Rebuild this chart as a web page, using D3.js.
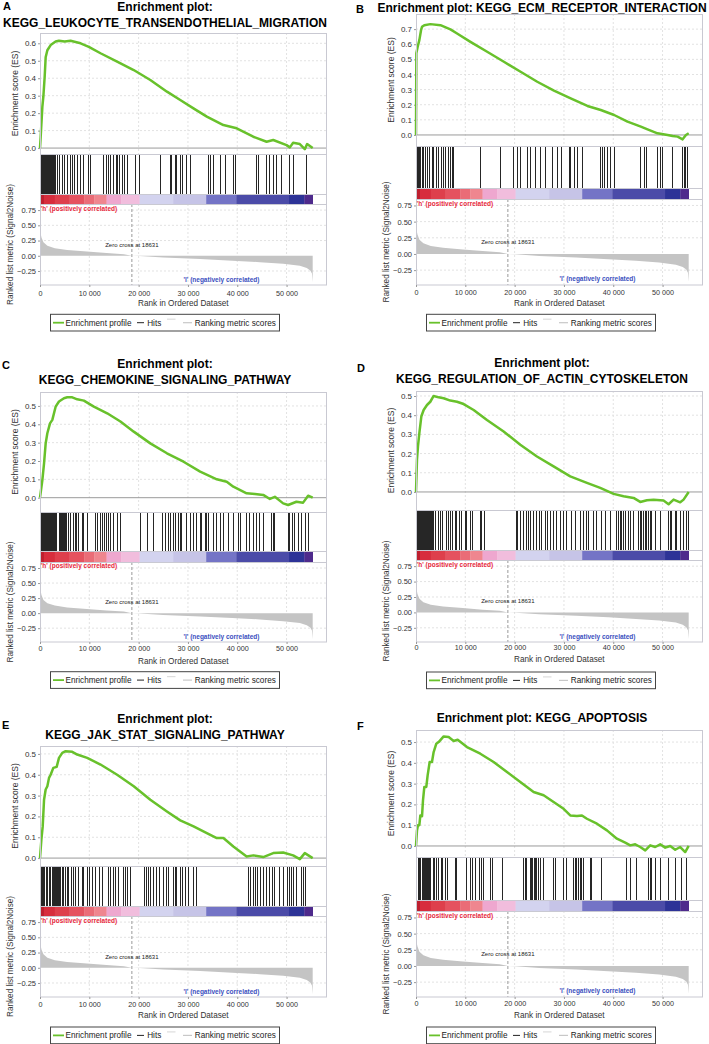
<!DOCTYPE html>
<html><head><meta charset="utf-8">
<script src="https://cdn.jsdelivr.net/npm/d3@7"></script>
<style>body{margin:0;background:#fff}svg{display:block;font-family:"Liberation Sans",Arial,sans-serif}</style>
</head><body><svg id="c" width="709" height="1044"></svg>
<script>
// ---------------- DATA ----------------
const panelLetters = ["A","B","C","D","E","F"];
const titleLines = [
  ["Enrichment plot:","KEGG_LEUKOCYTE_TRANSENDOTHELIAL_MIGRATION"],
  ["Enrichment plot: KEGG_ECM_RECEPTOR_INTERACTION"],
  ["Enrichment plot:","KEGG_CHEMOKINE_SIGNALING_PATHWAY"],
  ["Enrichment plot:","KEGG_REGULATION_OF_ACTIN_CYTOSKELETON"],
  ["Enrichment plot:","KEGG_JAK_STAT_SIGNALING_PATHWAY"],
  ["Enrichment plot: KEGG_APOPTOSIS"]
];
const legendLabels = ["Enrichment profile","Hits","Ranking metric scores"];
const zeroCross = 18631;
const listSize = 55300;
const xTicks = [0,10000,20000,30000,40000,50000];
const rankTicks = [-0.25,0,0.25,0.5,0.75];
const esTicksA = [0,0.1,0.2,0.3,0.4,0.5,0.6];
const esTicksB = [0,0.1,0.2,0.3,0.4,0.5,0.6,0.7];
const esTicksC = [0,0.1,0.2,0.3,0.4,0.5];
const esTicksD = [0,0.1,0.2,0.3,0.4,0.5];
const esTicksE = [0,0.1,0.2,0.3,0.4,0.5];
const esTicksF = [0,0.1,0.2,0.3,0.4,0.5];

// ranked list metric (shared by all panels)
const metricRank  = [0,100,300,700,1500,3000,5500,9500,13500,17000,18631,20200,25000,32500,39000,44600,49300,52700,54100,54800,55150,55300];
const metricValue = [0.52,0.38,0.30,0.22,0.165,0.125,0.095,0.07,0.045,0.025,0.0,-0.005,-0.03,-0.055,-0.08,-0.105,-0.133,-0.165,-0.2,-0.24,-0.29,-0.43];

// colour bar (phenotype gradient)
const colorBarStops  = [0,800,3000,6000,9000,11000,13500,16500,20200,27000,33700,39800,50500,53600,55300];
const colorBarColors = ["#bd1f2f","#d72d3d","#de3f4c","#e5525f","#ea6c77","#ef868f","#eea7cf","#f1bddd","#d3d3ef","#c6c4e7","#7474c6","#4b4ba8","#2d3397","#4e2a8c"];

// enrichment score curves [rank, ES]
const esA = [[0,0],[140,0.065],[480,0.237],[680,0.294],[950,0.41],[1150,0.52],[1490,0.56],[2160,0.59],[3170,0.61],[3840,0.615],[5000,0.61],[6200,0.615],[8230,0.60],[9900,0.58],[12270,0.543],[15640,0.495],[19000,0.447],[22370,0.39],[25750,0.323],[28440,0.275],[31120,0.227],[33830,0.18],[37190,0.132],[39890,0.113],[43250,0.065],[45950,0.036],[47300,0.046],[50000,0.017],[50670,0.004],[51330,0.03],[52690,0.023],[53700,-0.006],[54170,0.023],[55300,0]];
const esB = [[0,0],[70,0.54],[340,0.583],[680,0.627],[1020,0.693],[1220,0.715],[1690,0.726],[2910,0.733],[4950,0.726],[6980,0.698],[8330,0.671],[11040,0.616],[14430,0.55],[17820,0.484],[21210,0.418],[24590,0.352],[27980,0.293],[31370,0.242],[34760,0.192],[37470,0.165],[40180,0.132],[42890,0.088],[45600,0.055],[46950,0.037],[48980,0.011],[51020,0.0],[52030,-0.007],[53050,-0.011],[54065,-0.029],[54740,0],[55300,0.011]];
const esC = [[0,0],[480,0.096],[820,0.187],[1150,0.296],[1490,0.351],[2030,0.405],[2500,0.424],[3170,0.496],[3850,0.524],[4860,0.542],[5530,0.547],[6540,0.547],[7550,0.536],[8900,0.529],[10920,0.496],[13620,0.46],[16310,0.415],[19010,0.36],[22370,0.296],[25740,0.242],[29110,0.196],[32480,0.142],[35850,0.1],[37870,0.087],[39210,0.06],[41900,0.024],[43590,0.02],[45270,0.015],[46620,-0.007],[47630,0.005],[49310,-0.031],[50320,-0.04],[52000,-0.022],[53350,-0.027],[54370,0.011],[55300,0]];
const esD = [[0,0],[200,0.168],[400,0.237],[680,0.306],[1080,0.393],[1550,0.427],[2230,0.453],[2900,0.47],[3580,0.5],[4590,0.493],[5610,0.488],[6960,0.476],[8310,0.47],[9660,0.458],[11690,0.427],[14390,0.375],[17770,0.315],[21150,0.246],[24530,0.185],[27900,0.133],[31280,0.081],[34660,0.047],[37360,0.021],[40070,-0.01],[42090,-0.022],[44120,-0.031],[45470,-0.052],[46820,-0.043],[48180,-0.04],[50200,-0.045],[51220,-0.064],[52230,-0.04],[53580,-0.054],[54260,-0.04],[55300,0]];
const esE = [[0,0],[280,0.088],[550,0.152],[820,0.28],[1150,0.329],[1490,0.345],[1830,0.385],[2160,0.4],[2700,0.433],[3380,0.438],[3850,0.481],[4520,0.505],[5190,0.513],[6540,0.51],[7550,0.497],[9570,0.481],[12270,0.449],[15640,0.4],[19010,0.345],[22370,0.28],[25740,0.224],[28440,0.181],[31140,0.152],[33830,0.12],[35850,0.096],[37190,0.096],[39210,0.056],[41900,0.008],[43250,0.013],[45270,0.005],[47300,0.024],[49310,0.027],[51330,0.013],[52690,-0.005],[53700,0.024],[55300,0]];
const esF = [[0,0],[200,0.075],[400,0.1],[680,0.1],[880,0.147],[1220,0.143],[1420,0.22],[1690,0.284],[2090,0.284],[2360,0.34],[2770,0.404],[3240,0.404],[3580,0.452],[4120,0.492],[4590,0.5],[5610,0.527],[6620,0.524],[7640,0.505],[8450,0.511],[10340,0.476],[13040,0.444],[15740,0.404],[18450,0.356],[21150,0.308],[23850,0.26],[25880,0.244],[27910,0.212],[29930,0.179],[31280,0.147],[32640,0.144],[33650,0.147],[34660,0.131],[36690,0.107],[38720,0.075],[40740,0.035],[42430,0.016],[43450,0.003],[44460,0.008],[45470,-0.005],[46490,-0.021],[47500,0.003],[48510,-0.005],[49530,0.008],[50540,-0.008],[51550,0],[52570,-0.018],[53580,-0.005],[54590,-0.029],[55300,0]];

// gene set hit positions (ranks)
const hitsA = [100,200,300,400,500,600,700,800,900,1000,1100,1200,1300,1400,1500,1650,1800,1950,2100,2300,2500,2700,2900,3170,3510,4050,4520,5000,5530,6200,6540,7010,7550,8230,8770,9910,10250,12940,13480,13950,14290,14960,15500,15770,16170,16650,17110,17650,19340,20220,24400,26420,26750,27430,27770,28440,28980,29650,30460,34160,34500,35170,36520,37530,39210,39550,43930,44270,45950,46630,47300,47970,48980,50670,51340,54040];
const hitsB = [30,120,200,300,380,470,560,650,740,830,1220,1560,1900,2370,2780,3250,3590,4130,4610,5080,5490,5960,6640,6980,7450,7660,13080,17140,19720,20530,21210,22560,23240,24250,25270,26290,27640,28660,29470,31030,31370,32050,32720,33740,37470,37800,38280,38820,39500,40180,45600,46270,46820,48980,49530,50000,52030,54065,54400,54740,55080];
const hitsC = [0,200,400,600,800,1000,1200,1400,1600,1800,2000,2200,2400,2600,2800,3000,3200,3400,3900,4100,4300,4500,4700,4900,5100,5400,5870,6200,6880,7220,7420,7890,8560,8900,9710,11260,11730,12270,12610,13080,13480,13950,14290,14960,15640,16310,20350,21700,23050,24930,25410,26080,26420,27090,27430,28100,28440,28780,29790,30460,31140,31810,32480,32820,33490,33830,34160,35170,35850,36520,37190,38200,39210,40220,40560,41900,42580,43250,43930,44600,45270,46960,47300,47630,50320,50670,51210,51680,52350,53030,53900,54370];
const hitsD = [0,200,400,600,800,1000,1200,1400,1600,1800,2000,2200,2400,2600,2800,3000,3200,3400,3600,3920,4590,4930,5470,6150,6490,6960,7430,7970,8310,8850,9320,10000,10340,11010,11550,13040,13380,13850,20340,20610,21150,21820,22360,22840,23180,23850,24390,25070,25540,26220,26690,27230,27910,28580,29260,29930,30610,31620,32300,33310,33990,34660,35000,36010,36690,37700,38380,39390,40740,41080,41420,41760,42090,42430,43110,43450,44120,45140,45470,45810,46150,46490,46820,47160,47500,47840,48510,49530,51220,51550,51890,52570,52910,53580,54260,54800,55270];
const hitsE = [0,130,280,380,480,680,800,950,1220,1350,1490,1830,2000,2160,2500,2650,2840,3170,3350,3510,3850,4000,4180,4520,4700,4860,5190,5530,5870,6340,6750,7220,7890,8560,8900,9580,10110,10590,11260,12140,12610,13950,14290,14830,15300,15970,16990,17320,17660,18330,21160,21560,22030,22500,23050,23720,24260,25070,25610,26080,27090,27430,27770,28440,28980,29450,30130,31140,31680,42260,42730,43270,43610,44080,44620,45290,45960,46640,47180,47650,48660,49470,50140,50550,51020,51360,52030,53040,53510,53910];
const hitsF = [0,200,410,680,880,1220,1420,1690,1890,2090,2360,2570,2770,3040,3450,3720,4120,4590,5070,5470,5950,6420,7970,8310,10340,11010,11550,12030,12910,13380,13720,15200,15610,17640,21820,22160,22500,23180,23510,23720,23990,24190,24390,24530,24860,25200,25880,27910,28240,29930,30610,31960,32300,32640,32970,33310,33650,33990,35340,35680,37700,42770,43450,44800,47160,47500,47840,48510,49530,51220,52570,53920,54930];

const esSeries = [esA,esB,esC,esD,esE,esF];
const hitSeries = [hitsA,hitsB,hitsC,hitsD,hitsE,hitsF];
const esTickSets = [esTicksA,esTicksB,esTicksC,esTicksD,esTicksE,esTicksF];

// ---------------- LAYOUT ----------------
const xMax = 58200;
const rankDomain = [-0.48, 0.85];
const layouts = [
  {left:40,right:327,esTop:33,esBot:154,hitsBot:194,barBot:204,rankBot:285,esDom:[-0.034,0.659],tickY:293,xTitleY:306,legTop:314.3,lx:3,ly:9.5,tx:165,ty:[10.5,26.7]},
  {left:416,right:703,esTop:14,esBot:146,hitsBot:188,barBot:199,rankBot:285,esDom:[-0.073,0.80],tickY:292,xTitleY:306,legTop:314.3,lx:356,ly:12.5,tx:542,ty:[12]},
  {left:40,right:327,esTop:392,esBot:512,hitsBot:551,barBot:562,rankBot:642,esDom:[-0.078,0.576],tickY:648,xTitleY:663.5,legTop:671.7,lx:2,ly:369,tx:165,ty:[367.5,384]},
  {left:416,right:703,esTop:391,esBot:510,hitsBot:550,barBot:560,rankBot:642,esDom:[-0.094,0.526],tickY:647,xTitleY:661.5,legTop:672,lx:357,ly:371.5,tx:542,ty:[367,382.7]},
  {left:40,right:327,esTop:746,esBot:866,hitsBot:906,barBot:916,rankBot:997,esDom:[-0.038,0.538],tickY:1004,xTitleY:1018,legTop:1027,lx:2,ly:729,tx:165,ty:[722.7,738.7]},
  {left:416,right:703,esTop:730,esBot:857,hitsBot:900,barBot:911,rankBot:997,esDom:[-0.053,0.558],tickY:1003,xTitleY:1018,legTop:1027,lx:357,ly:730,tx:542,ty:[722.3]}
];

const svg = d3.select("#c");
const loc = d3.formatLocale({decimal:".",thousands:" ",grouping:[3],currency:["",""],minus:"\u2212"});
const xFmt = loc.format(",d");
const esFmt = loc.format(".1f");
const rkFmt = loc.format(".2f");
const GREEN = "#68c12b", FRAME = "#c9c9d2", GRID = "#e2e2e2";

function drawPanel(i){
  const L = layouts[i];
  const g = svg.append("g");
  const x = d3.scaleLinear().domain([0,xMax]).range([L.left,L.right]);
  const yE = d3.scaleLinear().domain(L.esDom).range([L.esBot,L.esTop]);
  const yR = d3.scaleLinear().domain(rankDomain).range([L.rankBot,L.barBot]);
  const esTicks = esTickSets[i];

  // letter & titles
  g.append("text").attr("x",L.lx).attr("y",L.ly).attr("font-size",11).attr("font-weight","bold").text(panelLetters[i]);
  titleLines[i].forEach((t,k)=>{
    g.append("text").attr("x",L.tx).attr("y",L.ty[k]).attr("text-anchor","middle")
      .attr("font-size",12).attr("font-weight","bold").text(t);
  });

  // ES grid
  g.selectAll(null).data(xTicks.filter(d=>d>0)).enter().append("line")
    .attr("x1",d=>x(d)).attr("x2",d=>x(d)).attr("y1",L.esTop).attr("y2",L.esBot)
    .attr("stroke",GRID).attr("stroke-dasharray","2,2");
  g.selectAll(null).data(esTicks.filter(d=>d!==0)).enter().append("line")
    .attr("x1",L.left).attr("x2",L.right).attr("y1",d=>yE(d)).attr("y2",d=>yE(d))
    .attr("stroke",GRID).attr("stroke-dasharray","2,2");
  g.append("line").attr("x1",L.left).attr("x2",L.right).attr("y1",yE(0)).attr("y2",yE(0))
    .attr("stroke","#9a9a9a").attr("stroke-width",1);

  // ES axis
  const ya = g.append("g").attr("transform",`translate(${L.left},0)`)
    .call(d3.axisLeft(yE).tickValues(esTicks).tickFormat(esFmt).tickSize(2).tickPadding(2));
  ya.select(".domain").remove();
  ya.selectAll("line").attr("stroke","#999");
  ya.selectAll("text").attr("font-size",8).attr("fill","#333").attr("font-family",null);

  // ES curve
  g.append("path").datum(esSeries[i]).attr("fill","none").attr("stroke",GREEN)
    .attr("stroke-width",2.5).attr("stroke-linejoin","round")
    .attr("d",d3.line().x(d=>x(d[0])).y(d=>yE(d[1])));
  g.append("rect").attr("x",L.left+0.5).attr("y",L.esTop+0.5).attr("width",L.right-L.left-1).attr("height",L.esBot-L.esTop)
    .attr("fill","none").attr("stroke",FRAME);

  // hits
  g.selectAll(null).data(hitSeries[i]).enter().append("line")
    .attr("x1",d=>x(d)).attr("x2",d=>x(d)).attr("y1",L.esBot+1).attr("y2",L.hitsBot)
    .attr("stroke","#262626").attr("stroke-width",1).attr("shape-rendering","crispEdges");

  // colour bar
  g.selectAll(null).data(colorBarColors).enter().append("rect")
    .attr("x",(d,k)=>x(colorBarStops[k])).attr("width",(d,k)=>x(colorBarStops[k+1])-x(colorBarStops[k])+0.3)
    .attr("y",L.hitsBot).attr("height",L.barBot-L.hitsBot).attr("fill",d=>d);
  g.append("rect").attr("x",L.left+0.5).attr("y",L.esBot+0.5).attr("width",L.right-L.left-1).attr("height",L.barBot-L.esBot)
    .attr("fill","none").attr("stroke",FRAME);
  g.append("line").attr("x1",L.left).attr("x2",L.right).attr("y1",L.hitsBot+0.5).attr("y2",L.hitsBot+0.5).attr("stroke",FRAME);

  // ranked metric grid
  g.selectAll(null).data(xTicks.filter(d=>d>0)).enter().append("line")
    .attr("x1",d=>x(d)).attr("x2",d=>x(d)).attr("y1",L.barBot).attr("y2",L.rankBot)
    .attr("stroke",GRID).attr("stroke-dasharray","2,2");
  g.selectAll(null).data(rankTicks.filter(d=>d!==0)).enter().append("line")
    .attr("x1",L.left).attr("x2",L.right).attr("y1",d=>yR(d)).attr("y2",d=>yR(d))
    .attr("stroke",GRID).attr("stroke-dasharray","2,2");

  // ranked metric area
  const mPts = metricRank.map((r,k)=>[r,metricValue[k]]);
  g.append("path").datum(mPts).attr("fill","#c4c4c4")
    .attr("d",d3.area().x(d=>x(d[0])).y0(yR(0)).y1(d=>yR(d[1])));
  // zero cross
  g.append("line").attr("x1",x(zeroCross)).attr("x2",x(zeroCross)).attr("y1",L.barBot).attr("y2",L.rankBot)
    .attr("stroke","#9a9a9a").attr("stroke-dasharray","3,2");
  g.append("rect").attr("x",L.left+0.5).attr("y",L.barBot+0.5).attr("width",L.right-L.left-1).attr("height",L.rankBot-L.barBot-0.5)
    .attr("fill","none").attr("stroke",FRAME);

  // annotations
  g.append("text").attr("x",x(150)).attr("y",yR(0.78)).attr("dy","0.35em").attr("font-size",6.5)
    .attr("font-weight","bold").attr("fill","#e8283c").text("'h' (positively correlated)");
  g.append("text").attr("x",x(zeroCross)).attr("y",yR(0.18)).attr("dy","0.35em").attr("text-anchor","middle")
    .attr("font-size",6).attr("fill","#222").text("Zero cross at " + zeroCross);
  g.append("text").attr("x",x(36800)).attr("y",yR(-0.39)).attr("dy","0.35em").attr("text-anchor","middle")
    .attr("font-size",6.5).attr("font-weight","bold").attr("fill","#3b4fc0").text("'l' (negatively correlated)");

  // ranked axis
  const ra = g.append("g").attr("transform",`translate(${L.left},0)`)
    .call(d3.axisLeft(yR).tickValues(rankTicks).tickFormat(rkFmt).tickSize(2).tickPadding(2));
  ra.select(".domain").remove();
  ra.selectAll("line").attr("stroke","#999");
  ra.selectAll("text").attr("font-size",7.5).attr("fill","#333").attr("font-family",null);

  // x axis
  const pad = Math.max(0.5, L.tickY - L.rankBot - 4.5);
  const xa = g.append("g").attr("transform",`translate(0,${L.rankBot})`)
    .call(d3.axisBottom(x).tickValues(xTicks).tickFormat(xFmt).tickSize(2).tickPadding(pad));
  xa.select(".domain").remove();
  xa.selectAll("line").attr("stroke","#999");
  xa.selectAll("text").attr("font-size",7.2).attr("fill","#333").attr("font-family",null);

  // axis titles
  g.append("text").attr("x",(L.left + x(55300))/2 + 7).attr("y",L.xTitleY).attr("text-anchor","middle")
    .attr("font-size",8.2).attr("fill","#333").text("Rank in Ordered Dataset");
  g.append("text").attr("transform",`translate(${L.left-22},${(L.esTop+L.esBot)/2}) rotate(-90)`)
    .attr("text-anchor","middle").attr("font-size",8.5).attr("fill","#333").text("Enrichment score (ES)");
  g.append("text").attr("transform",`translate(${L.left-27},${(L.barBot+L.rankBot)/2}) rotate(-90)`)
    .attr("text-anchor","middle").attr("font-size",8.2).attr("fill","#333").text("Ranked list metric (Signal2Noise)");

  // legend
  const lg = g.append("g").attr("transform",`translate(${L.left+10.5},${L.legTop})`);
  lg.append("rect").attr("x",0).attr("y",0).attr("width",229).attr("height",16.7).attr("fill","#fff").attr("stroke","#444");
  const cy = 8.4;
  lg.append("line").attr("x1",2.5).attr("x2",13.5).attr("y1",cy).attr("y2",cy).attr("stroke",GREEN).attr("stroke-width",1.8);
  lg.append("text").attr("x",15).attr("y",cy).attr("dy","0.35em").attr("font-size",8.2).attr("fill","#222").text(legendLabels[0]);
  lg.append("line").attr("x1",86.5).attr("x2",93.5).attr("y1",cy).attr("y2",cy).attr("stroke","#222").attr("stroke-width",1);
  lg.append("text").attr("x",96.7).attr("y",cy).attr("dy","0.35em").attr("font-size",8.2).attr("fill","#222").text(legendLabels[1]);
  lg.append("line").attr("x1",116.5).attr("x2",125).attr("y1",cy-3.5).attr("y2",cy-3.5).attr("stroke","#ddd").attr("stroke-width",1.2);
  lg.append("line").attr("x1",132.5).attr("x2",141.5).attr("y1",cy).attr("y2",cy).attr("stroke","#c8c8c8").attr("stroke-width",1.2);
  lg.append("text").attr("x",144.3).attr("y",cy).attr("dy","0.35em").attr("font-size",8.2).attr("fill","#222").text(legendLabels[2]);
}
for (let i=0;i<6;i++) drawPanel(i);
</script></body></html>
